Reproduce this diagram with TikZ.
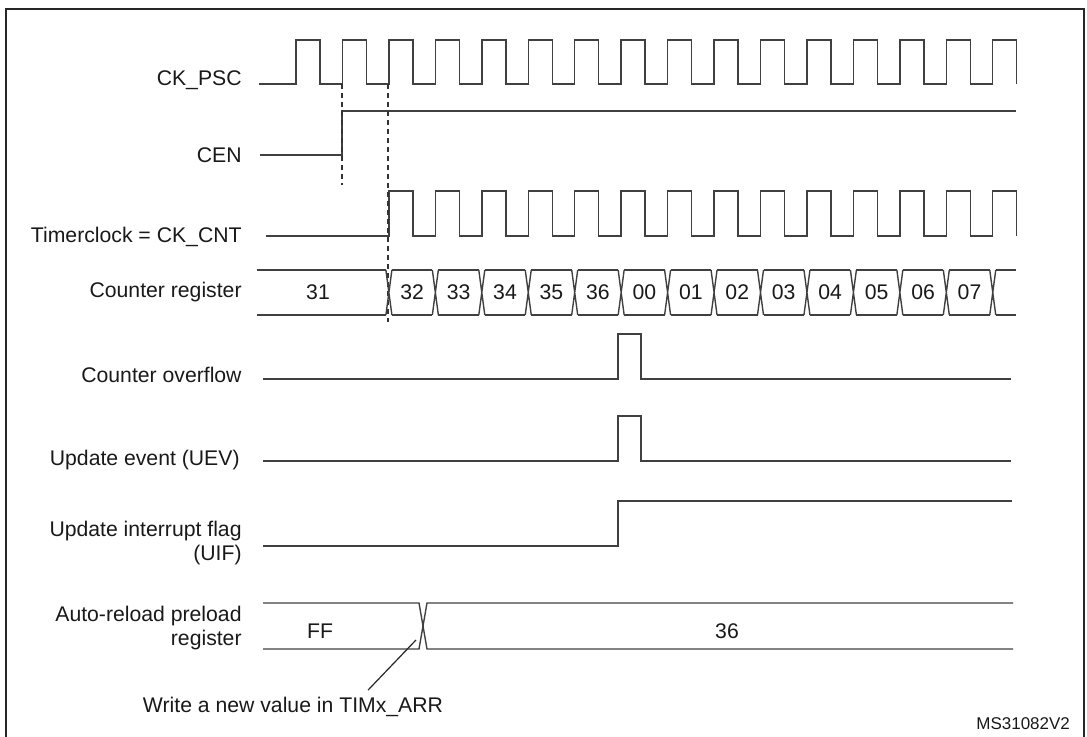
\documentclass[tikz,border=0pt]{standalone}
\usepackage{fontspec}
\setmainfont{Liberation Sans}
\begin{document}
\begin{tikzpicture}[x=0.5pt, y=-0.5pt,
    every node/.style={font=\fontsize{10.6}{12}\selectfont, text=black!90},
    wave/.style={draw=black!75, line width=0.7pt},
    lbl/.style={anchor=east, align=right, inner sep=0pt},
    guide/.style={draw=black!80, line width=0.6pt, dash pattern=on 2.5pt off 2pt}]
        \useasboundingbox (0,0) rectangle (1087,737);
        % Frame
        \draw[black!85, line width=1.2pt] (6,737) -- (6,9) -- (1084,9) -- (1084,737);

        % Nodes
        \node[lbl] (psc) at (242,80) {CK\_PSC};
        \node[lbl] (cen) at (242,155) {CEN};
        \node[lbl] (cnt) at (242,237) {Timerclock = CK\_CNT};
        \node[lbl] (reg) at (242,292) {Counter register};
        \node[lbl] (ovf) at (242,375) {Counter overflow};
        \node[lbl] (uev) at (240,460) {Update event (UEV)};
        \node[lbl] (uif) at (242,543) {Update interrupt flag\\(UIF)};
        \node[lbl] (arr) at (242,628) {Auto-reload preload\\register};
        \node (note) at (293,707) {Write a new value in TIMx\_ARR};
        \node[anchor=east, font=\fontsize{8.5}{10}\selectfont] (ref) at (1077,724) {MS31082V2};

        % Clocks
        \draw[wave] (259,84) \foreach \k in {0,...,15} {
            -- ({296+46.45*\k},84) -- ({296+46.45*\k},40) -- ({320+46.45*\k},40) -- ({320+46.45*\k},84)};
        \draw[wave] (260,155) -- (342,155) -- (342,111) -- (1016,111);
        \draw[wave] (266,236) \foreach \k in {2,...,15} {
            -- ({296+46.45*\k},236) -- ({296+46.45*\k},191) -- ({320+46.45*\k},191) -- ({320+46.45*\k},236)};
        \draw[guide] (342,84) -- (342,185);
        \draw[guide] (388,84) -- (388,322);

        % Counter register
        \draw[wave] (257,270) -- (385.9,270) (257,315) -- (385.9,315);
        \foreach \k in {2,...,15}
            \draw[wave] ({293+46.45*\k},270) -- ({299+46.45*\k},315) ({293+46.45*\k},315) -- ({299+46.45*\k},270);
        \foreach \k in {2,...,14}
            \draw[wave] ({299+46.45*\k},270) -- ({339.45+46.45*\k},270) ({299+46.45*\k},315) -- ({339.45+46.45*\k},315);
        \draw[wave] (995.75,270) -- (1016,270) (995.75,315) -- (1016,315);
        \node (v1) at (318,292) {31};
        \foreach \v [count=\k from 2] in {32,33,34,35,36,00,01,02,03,04,05,06,07}
            \node (v\k) at ({319.2+46.45*\k},292) {\v};

        % Events
        \draw[wave] (263,379) -- (618,379) -- (618,334) -- (641,334) -- (641,379) -- (1011,379);
        \draw[wave] (263,461) -- (618,461) -- (618,416) -- (641,416) -- (641,461) -- (1011,461);
        \draw[wave] (263,546) -- (618,546) -- (618,501) -- (1012,501);

        % Auto-reload register
        \draw[wave] (263,603) -- (419,603) -- (427,649) -- (1013,649);
        \draw[wave] (263,649) -- (419,649) -- (427,603) -- (1013,603);
        \node (ff) at (320,631) {FF};
        \node (nv) at (727,631) {36};

        % Arrows
        \coordinate (wr) at (416,640);
        \draw[black!85, line width=0.6pt] ([xshift=37.5pt]note.north) -- (wr);
    \end{tikzpicture}
\end{document}
